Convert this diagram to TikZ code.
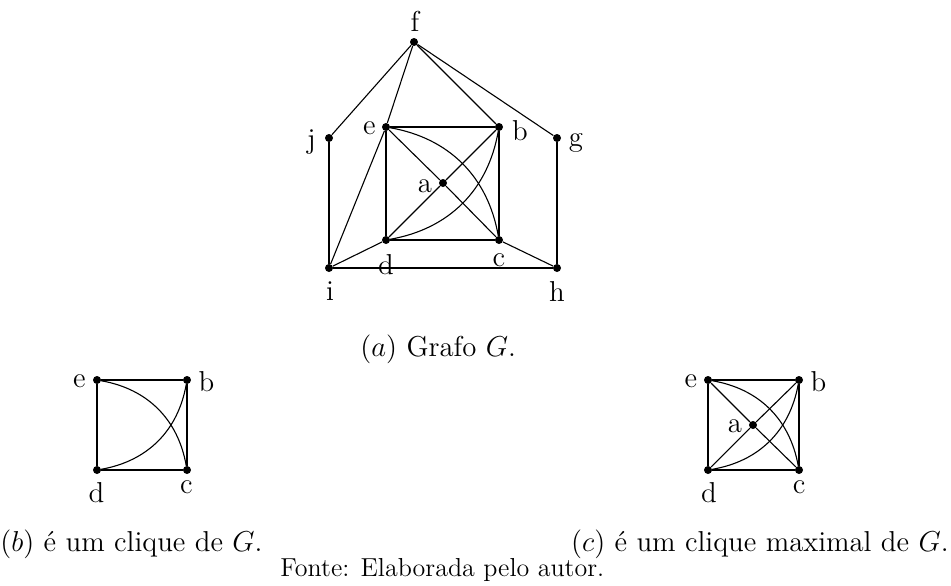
\documentclass[tikz,border=0pt]{standalone}
\usepackage{fontspec}
\begin{document}
\begin{tikzpicture}[x=0.5pt,y=-0.5pt,
  font=\fontsize{14.4}{17}\selectfont,
  vtx/.style={circle,fill=black,inner sep=0pt,minimum size=4pt},
  lbl/.style={inner sep=0pt},
  edge/.style={line width=0.55pt},
  arcL/.style={edge,bend left=35},
  arcR/.style={edge,bend right=35}]
\useasboundingbox (0,0) rectangle (951,585);
% ---- (a) graph G ----
\node[vtx] (f) at (414,42) {};
\node[vtx] (e) at (386,127) {};
\node[vtx] (b) at (499,127) {};
\node[vtx] (j) at (329,138) {};
\node[vtx] (g) at (557,138) {};
\node[vtx] (a) at (443,183) {};
\node[vtx] (d) at (386,240) {};
\node[vtx] (c) at (499,240) {};
\node[vtx] (i) at (329,268) {};
\node[vtx] (h) at (557,268) {};
\node[lbl] (lf) at (415,21) {f};
\node[lbl] (le) at (369.5,128) {e};
\node[lbl] (lb) at (520,130.5) {b};
\node[lbl] (lj) at (311.5,142) {j};
\node[lbl] (lg) at (576,142.5) {g};
\node[lbl] (la) at (425,186) {a};
\node[lbl] (lc) at (499,260) {c};
\node[lbl] (ld) at (386,265) {d};
\node[lbl] (li) at (330,291) {i};
\node[lbl] (lh) at (557,291) {h};
\draw[edge] (f) -- (j);
\draw[edge] (f) -- (e);
\draw[edge] (f) -- (b);
\draw[edge] (f) -- (g);
\draw[edge] (j) -- (i);
\draw[edge] (g) -- (h);
\draw[edge] (i) -- (e);
\draw[edge] (i) -- (d);
\draw[edge] (i) -- (h);
\draw[edge] (c) -- (h);
\draw[edge] (e) -- (b);
\draw[edge] (e) -- (d);
\draw[edge] (b) -- (c);
\draw[edge] (d) -- (c);
\draw[edge] (e) -- (a);
\draw[edge] (a) -- (c);
\draw[edge] (d) -- (a);
\draw[edge] (a) -- (b);
\draw[arcL] (e) to (c);
\draw[arcR] (d) to (b);
\node[anchor=base west,inner sep=0pt] (capa) at (360,356) {$(a)$ Grafo $G$.};
% ---- (b) clique ----
\node[vtx] (be) at (97,380) {};
\node[vtx] (bb) at (187,380) {};
\node[vtx] (bd) at (97,470) {};
\node[vtx] (bc) at (187,470) {};
\node[lbl] (lbe) at (79.5,381) {e};
\node[lbl] (lbb) at (206.5,382) {b};
\node[lbl] (lbd) at (96.5,493) {d};
\node[lbl] (lbc) at (186.5,487) {c};
\draw[edge] (be) -- (bb);
\draw[edge] (be) -- (bd);
\draw[edge] (bb) -- (bc);
\draw[edge] (bd) -- (bc);
\draw[arcL] (be) to (bc);
\draw[arcR] (bd) to (bb);
\node[anchor=base west,inner sep=0pt] (capb) at (0,551) {$(b)$ é um clique de $G$.};
% ---- (c) maximal clique ----
\node[vtx] (ce) at (708,380) {};
\node[vtx] (cb) at (799,380) {};
\node[vtx] (cd) at (708,470) {};
\node[vtx] (cc) at (799,470) {};
\node[vtx] (ca) at (753,425) {};
\node[lbl] (lce) at (691,381) {e};
\node[lbl] (lcb) at (818.5,382) {b};
\node[lbl] (lca) at (735,426) {a};
\node[lbl] (lcd) at (709,493) {d};
\node[lbl] (lcc) at (799,487) {c};
\draw[edge] (ce) -- (cb);
\draw[edge] (ce) -- (cd);
\draw[edge] (cb) -- (cc);
\draw[edge] (cd) -- (cc);
\draw[edge] (ce) -- (ca);
\draw[edge] (ca) -- (cc);
\draw[edge] (cd) -- (ca);
\draw[edge] (ca) -- (cb);
\draw[arcL] (ce) to (cc);
\draw[arcR] (cd) to (cb);
\node[anchor=base east,inner sep=0pt] (capc) at (949,551) {$(c)$ é um clique maximal de $G$.};
% ---- source ----
\node[anchor=base west,inner sep=0pt,font=\fontsize{13}{15}\selectfont] (fonte) at (280,576) {Fonte: Elaborada pelo autor.};
\end{tikzpicture}
\end{document}
